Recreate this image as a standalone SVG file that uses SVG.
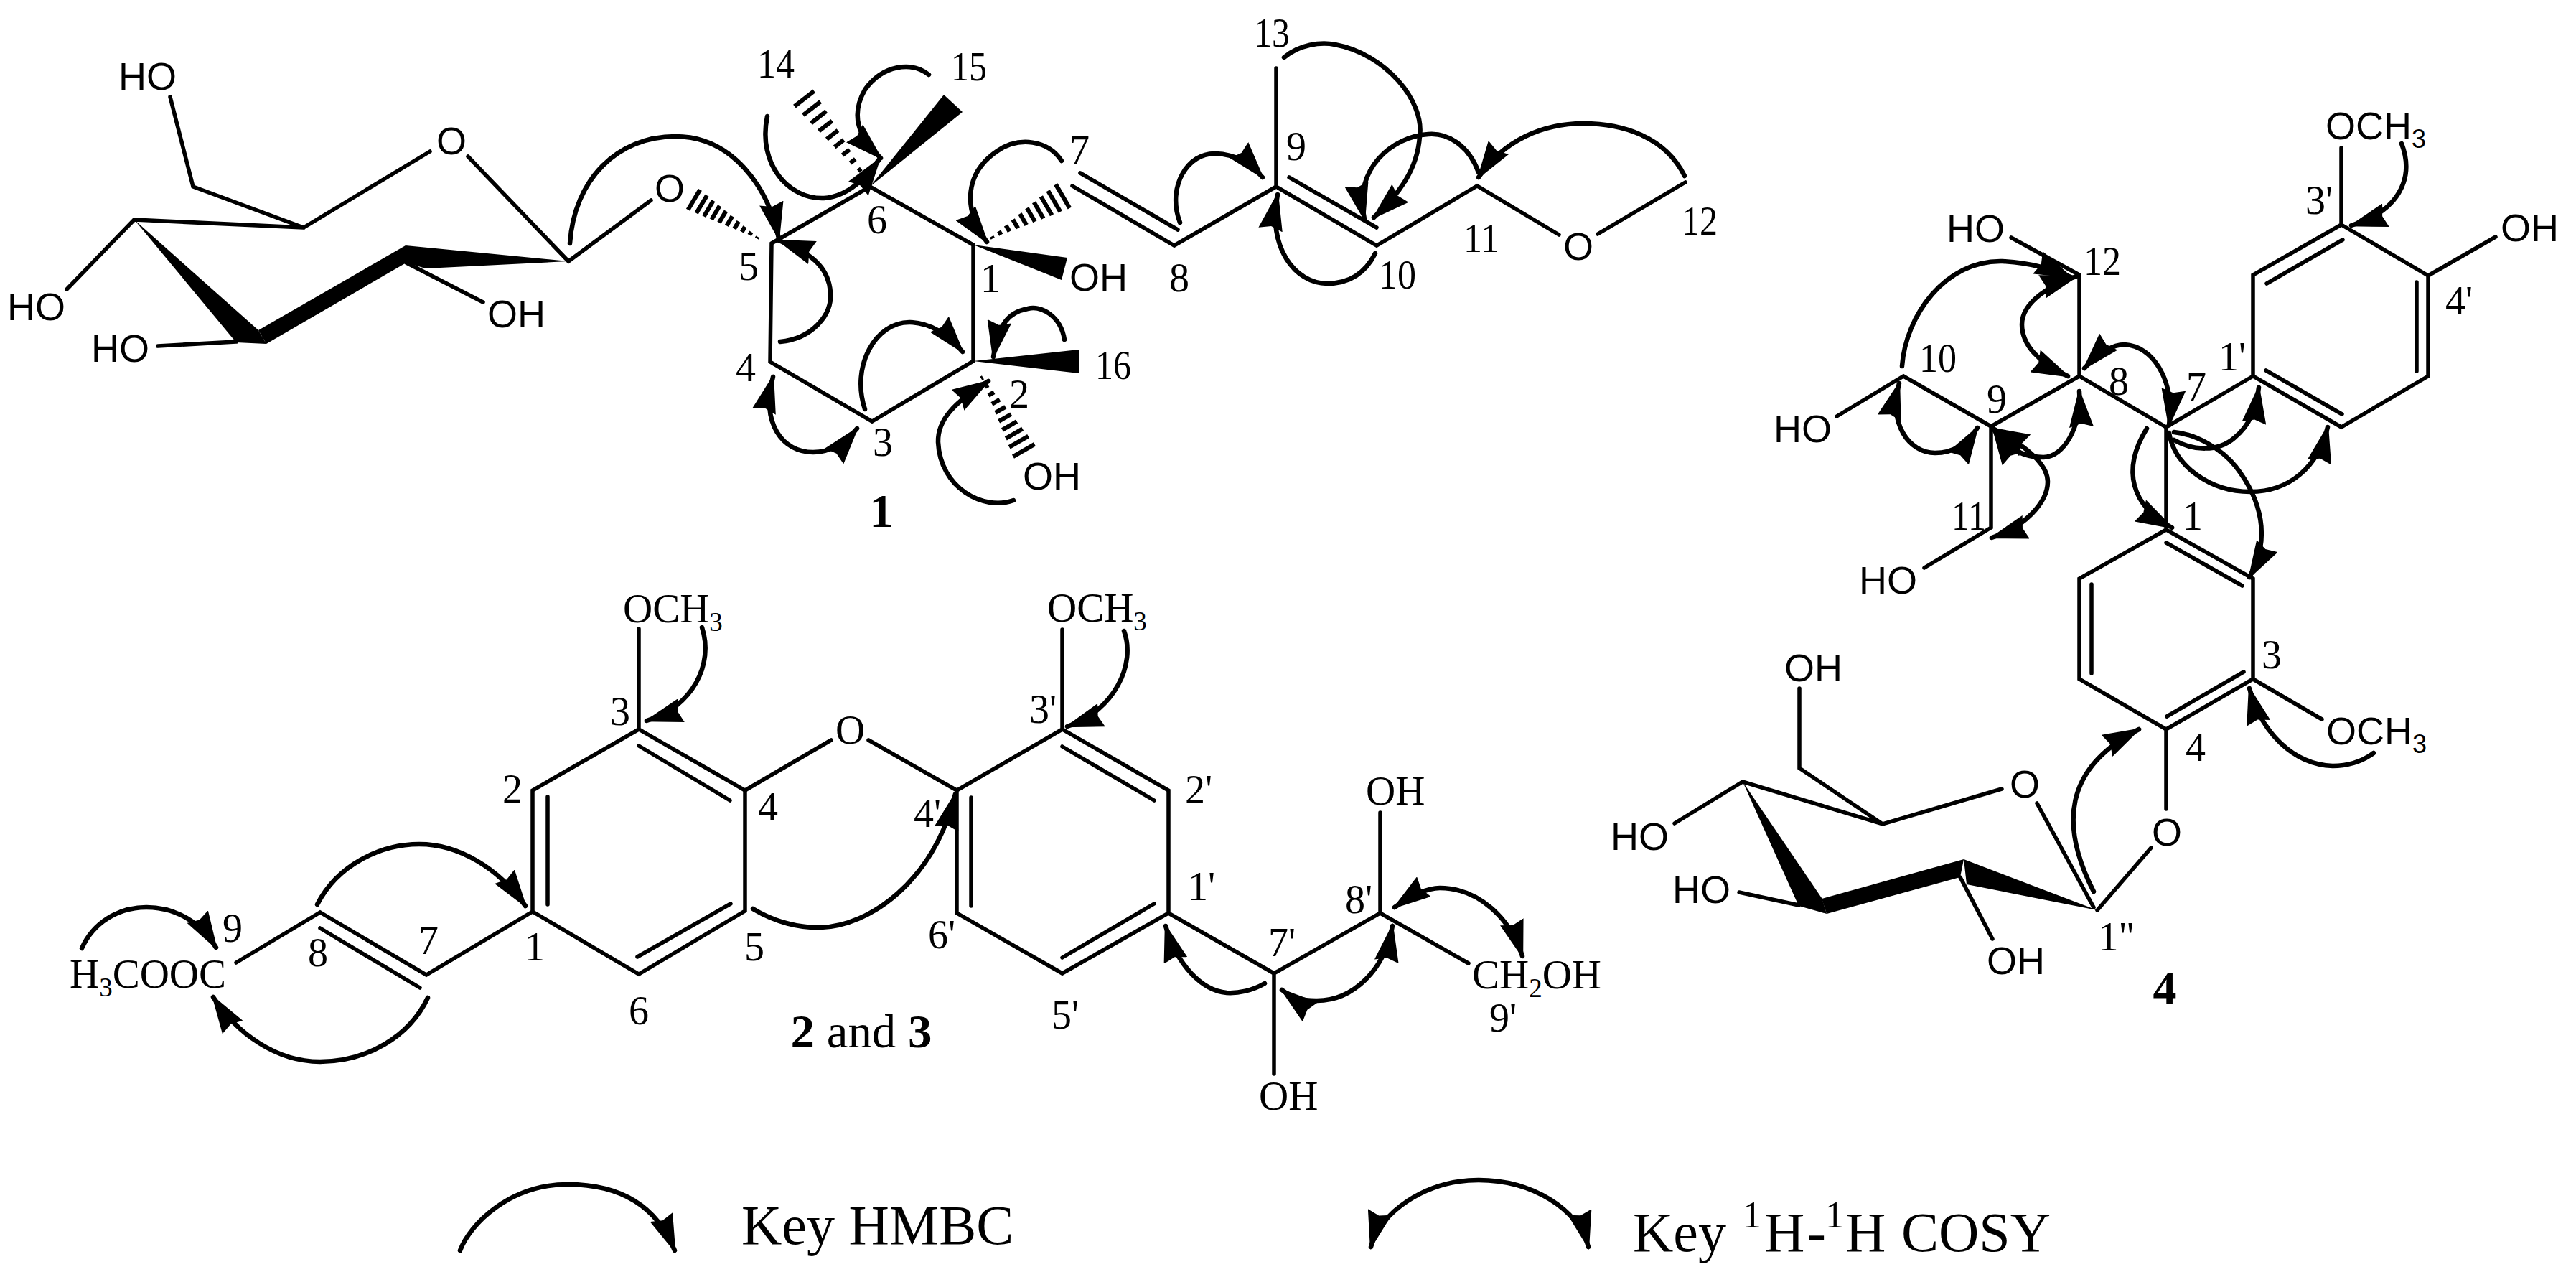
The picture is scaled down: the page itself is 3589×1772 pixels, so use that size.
<svg xmlns="http://www.w3.org/2000/svg" xmlns:xlink="http://www.w3.org/1999/xlink" width="3589" height="1772" viewBox="0 0 3589 1772">
<style>
.bond{fill:none;stroke:#000;stroke-width:5.5;stroke-linecap:round;stroke-linejoin:miter}
.arr{fill:none;stroke:#000;stroke-width:6.5;stroke-linecap:round;marker-end:url(#head)}
.arr2{fill:none;stroke:#000;stroke-width:6.5;stroke-linecap:round;marker-start:url(#head);marker-end:url(#head)}
.hash{fill:none;stroke:#000;stroke-width:6;vector-effect:non-scaling-stroke}
text{fill:#000}
.n{font-family:"Liberation Serif","Times New Roman",serif;font-size:56px;text-anchor:middle}
.t{font-family:"Liberation Serif","Times New Roman",serif;font-size:57px}
.s{font-family:"Liberation Sans",Arial,sans-serif;font-size:54px}
.b{font-family:"Liberation Serif","Times New Roman",serif;font-size:66px;font-weight:bold;text-anchor:middle}
.k{font-family:"Liberation Serif","Times New Roman",serif;font-size:78px}
</style>
<defs>
<marker id="head" markerUnits="userSpaceOnUse" viewBox="0 0 54 34" refX="50" refY="17" markerWidth="54" markerHeight="34" orient="auto-start-reverse"><path d="M54,17L0,0L5,17L0,34Z" fill="#000"/></marker>
<path id="h" class="hash" d="M5,-.08V.08M15,-.15V.15M25,-.25V.25M35,-.35V.35M45,-.45V.45M55,-.55V.55M65,-.65V.65M75,-.75V.75M85,-.85V.85M96,-.96V.96"/>
</defs>
<rect width="3589" height="1772" fill="#fff"/>

<g id="compound-1">
<path class="bond" d="M237,135L269,260L423,317L599,211M652,218L792,364L907,279M187,306L423,317M93,403L187,306M220,482L329,476M566,366L673,421"/>
<polygon points="187,306 360,460 371,479 329,477"/>
<polygon points="360,460 565,342 566,366 371,479"/>
<polygon points="792,364 565,342 566,366 593,374"/>
<path class="bond" d="M1075,339L1212,260L1356,341V503L1215,587L1073,504Z"/>
<path class="bond" d="M1494,259L1636,342L1778,260L1918,342L2058,259L2172,327M2226,326L2348,254M1505,241L1641,320M1796,247L1918,317M1778,95V260"/>
<polygon points="1212,260 1315,132 1341,156"/>
<polygon points="1356,341 1487,359 1479,390"/>
<polygon points="1356,503 1503,487 1503,520"/>
<use xlink:href="#h" href="#h" transform="translate(1060,334) rotate(210.9) scale(1.13,17)"/>
<use xlink:href="#h" href="#h" transform="translate(1212,255) rotate(232.1) scale(1.55,18)"/>
<use xlink:href="#h" href="#h" transform="translate(1377,334) rotate(-30.3) scale(1.25,20)"/>
<use xlink:href="#h" href="#h" transform="translate(1365,521) rotate(60) scale(1.28,18)"/>
<text class="s" x="165" y="125">HO</text>
<text class="s" x="10" y="446">HO</text>
<text class="s" x="127" y="504">HO</text>
<text class="s" x="679" y="456">OH</text>
<text class="s" x="608" y="215">O</text>
<text class="s" x="912" y="281">O</text>
<text class="s" x="1490" y="405">OH</text>
<text class="s" x="1425" y="682">OH</text>
<text class="s" x="2178" y="362">O</text>
<text class="n" x="1081" y="108" textLength="52" lengthAdjust="spacingAndGlyphs">14</text>
<text class="n" x="1350" y="112" textLength="50" lengthAdjust="spacingAndGlyphs">15</text>
<text class="n" x="1772" y="65" textLength="50" lengthAdjust="spacingAndGlyphs">13</text>
<text class="n" x="1504" y="228">7</text>
<text class="n" x="1806" y="223">9</text>
<text class="n" x="1222" y="325">6</text>
<text class="n" x="1380" y="407">1</text>
<text class="n" x="1643" y="406">8</text>
<text class="n" x="1947" y="402" textLength="52" lengthAdjust="spacingAndGlyphs">10</text>
<text class="n" x="2064" y="351" textLength="50" lengthAdjust="spacingAndGlyphs">11</text>
<text class="n" x="2368" y="327" textLength="50" lengthAdjust="spacingAndGlyphs">12</text>
<text class="n" x="1551" y="528" textLength="50" lengthAdjust="spacingAndGlyphs">16</text>
<text class="n" x="1420" y="568">2</text>
<text class="n" x="1230" y="635">3</text>
<text class="n" x="1043" y="390">5</text>
<text class="n" x="1039" y="531">4</text>
<text class="b" x="1228" y="734">1</text>
</g>

<g id="compound-2-3">
<path class="bond" d="M890,876V1016L1038,1101V1269L890,1357L742,1270V1101L890,1016M890,1039L1017,1115M763,1110V1260M1018,1259L888,1333"/>
<path class="bond" d="M329,1341L446,1271L594,1358L742,1270M446,1293L585,1376"/>
<path class="bond" d="M1038,1101L1158,1031M1210,1031L1333,1101"/>
<path class="bond" d="M1480,877V1016L1628,1101V1272L1480,1356L1333,1272V1101L1480,1016M1480,1040L1608,1115M1608,1259L1480,1334M1353,1111V1262"/>
<path class="bond" d="M1628,1272L1775,1356L1923,1272V1132M1775,1356V1496M1923,1272L2046,1342"/>
<text class="t" x="868" y="867">OCH<tspan font-size="37" dy="12">3</tspan></text>
<text class="t" x="1459" y="866">OCH<tspan font-size="37" dy="12">3</tspan></text>
<text class="t" x="1164" y="1036">O</text>
<text class="t" x="1903" y="1121">OH</text>
<text class="t" x="1754" y="1546">OH</text>
<text class="t" x="2051" y="1377">CH<tspan font-size="37" dy="12">2</tspan><tspan dy="-12">OH</tspan></text>
<text class="t" x="97" y="1376">H<tspan font-size="37" dy="12">3</tspan><tspan dy="-12">COOC</tspan></text>
<text class="n" x="324" y="1312">9</text>
<text class="n" x="443" y="1346">8</text>
<text class="n" x="597" y="1329">7</text>
<text class="n" x="745" y="1338">1</text>
<text class="n" x="890" y="1427">6</text>
<text class="n" x="1051" y="1338">5</text>
<text class="n" x="1070" y="1143">4</text>
<text class="n" x="714" y="1118">2</text>
<text class="n" x="864" y="1010">3</text>
<text class="n" x="1453" y="1007">3'</text>
<text class="n" x="1670" y="1119">2'</text>
<text class="n" x="1292" y="1152">4'</text>
<text class="n" x="1312" y="1321">6'</text>
<text class="n" x="1674" y="1254">1'</text>
<text class="n" x="1484" y="1433">5'</text>
<text class="n" x="1786" y="1332">7'</text>
<text class="n" x="1893" y="1272">8'</text>
<text class="n" x="2094" y="1437">9'</text>
<text class="b" x="1200" y="1459" textLength="197" lengthAdjust="spacingAndGlyphs">2 <tspan font-weight="normal">and</tspan> 3</text>
</g>

<g id="compound-4">
<path class="bond" d="M3262,206V313L3383,384V524L3262,595L3139,524V383L3262,313M3158,395L3264,334M3367,393V517M3157,516L3263,577M3383,384L3477,330"/>
<path class="bond" d="M3139,524L3018,595L2897,524L2774,594L2652,524L2559,580M2897,524V383L2802,331M2774,594V735L2681,791"/>
<path class="bond" d="M3018,595V738L3139,806V946L3018,1016L2897,946V806L3018,738M3018,756L3124,816M2914,814V938M3126,936L3019,998M3139,946L3235,1002M3018,1016V1127M2997,1181L2922,1268"/>
<path class="bond" d="M2838,1119L2917,1264M2789,1099L2623,1148L2428,1089L2333,1147M2623,1148L2507,1070V959M2423,1243L2506,1261M2731,1222L2776,1308"/>
<polygon points="2428,1089 2538,1251 2545,1273 2506,1262"/>
<polygon points="2538,1252 2736,1197 2731,1222 2545,1273"/>
<polygon points="2922,1268 2736,1197 2740,1232"/>
<text class="s" x="3240" y="194" font-size="56">OCH<tspan font-size="36" dy="12">3</tspan></text>
<text class="s" x="3241" y="1037" font-size="56">OCH<tspan font-size="36" dy="12">3</tspan></text>
<text class="s" x="3484" y="336">OH</text>
<text class="s" x="2712" y="337">HO</text>
<text class="s" x="2471" y="616">HO</text>
<text class="s" x="2590" y="827">HO</text>
<text class="s" x="2486" y="949">OH</text>
<text class="s" x="2244" y="1184">HO</text>
<text class="s" x="2330" y="1258">HO</text>
<text class="s" x="2768" y="1357">OH</text>
<text class="s" x="2800" y="1111">O</text>
<text class="s" x="2998" y="1178">O</text>
<text class="n" x="3231" y="298">3'</text>
<text class="n" x="3426" y="438">4'</text>
<text class="n" x="3110" y="516">1'</text>
<text class="n" x="2929" y="383" textLength="52" lengthAdjust="spacingAndGlyphs">12</text>
<text class="n" x="2700" y="518" textLength="52" lengthAdjust="spacingAndGlyphs">10</text>
<text class="n" x="2952" y="550">8</text>
<text class="n" x="2782" y="575">9</text>
<text class="n" x="3060" y="558">7</text>
<text class="n" x="2743" y="738" textLength="48" lengthAdjust="spacingAndGlyphs">11</text>
<text class="n" x="3055" y="738">1</text>
<text class="n" x="3165" y="931">3</text>
<text class="n" x="3059" y="1060">4</text>
<text class="n" x="2949" y="1324">1"</text>
<text class="b" x="3016" y="1399">4</text>
</g>

<g id="connectors">
<path class="arr" d="M794,339C800,250 860,190 941,190C1020,190 1070,260 1085,332"/>
<path class="arr" d="M1069,162C1055,230 1100,278 1148,276C1180,274 1205,250 1225,222"/>
<path class="arr" d="M1294,104C1270,85 1230,90 1205,125C1185,160 1195,190 1227,220"/>
<path class="arr" d="M1087,476C1130,472 1160,440 1157,407C1155,380 1140,355 1085,335"/>
<path class="arr2" d="M1077,525C1060,590 1090,630 1133,630C1155,630 1175,620 1194,597"/>
<path class="arr" d="M1205,570C1185,510 1220,448 1268,449C1295,450 1320,465 1341,490"/>
<path class="arr" d="M1479,224C1460,195 1420,190 1390,210C1345,240 1340,290 1375,337"/>
<path class="arr" d="M1483,473C1478,440 1450,425 1432,430C1405,435 1392,450 1384,497"/>
<path class="arr" d="M1412,697C1370,712 1310,680 1307,616C1306,585 1330,560 1377,531"/>
<path class="arr" d="M1644,310C1625,260 1655,212 1694,214C1720,215 1740,225 1759,247"/>
<path class="arr" d="M1916,353C1900,385 1875,395 1849,395C1805,395 1765,345 1780,271"/>
<path class="arr" d="M1789,80C1810,62 1840,58 1860,62C1930,75 1985,140 1978,190C1975,235 1950,270 1914,303"/>
<path class="arr" d="M2060,240C2045,200 2015,185 1990,187C1940,190 1885,235 1901,305"/>
<path class="arr" d="M2347,245C2320,190 2260,172 2206,172C2150,172 2095,195 2060,247"/>
<path class="arr" d="M978,874C995,925 965,985 901,1004"/>
<path class="arr" d="M1566,879C1583,925 1553,990 1487,1012"/>
<path class="arr" d="M1049,1266C1080,1285 1115,1293 1144,1292C1210,1290 1300,1230 1331,1106"/>
<path class="arr" d="M1762,1370C1745,1380 1725,1384 1709,1383C1675,1380 1640,1345 1624,1290"/>
<path class="arr2" d="M1940,1290C1930,1350 1885,1395 1833,1394C1815,1394 1800,1390 1786,1379"/>
<path class="arr2" d="M1943,1264C1970,1245 1990,1237 2006,1237C2060,1237 2105,1280 2121,1332"/>
<path class="arr" d="M442,1260C470,1205 530,1176 584,1176C640,1176 695,1210 732,1262"/>
<path class="arr" d="M114,1321C130,1285 165,1264 204,1264C245,1264 280,1285 301,1320"/>
<path class="arr" d="M596,1390C570,1445 510,1479 446,1479C385,1479 330,1440 297,1389"/>
<path class="arr" d="M3346,200C3365,250 3340,295 3276,314"/>
<path class="arr" d="M2650,510C2655,440 2710,362 2790,364C2830,366 2860,375 2885,386"/>
<path class="arr2" d="M2893,385C2860,395 2817,420 2817,452C2817,480 2840,505 2881,524"/>
<path class="arr2" d="M2904,513C2925,490 2945,480 2960,480C3000,482 3030,530 3022,592"/>
<path class="arr2" d="M2897,545C2900,595 2875,637 2847,637C2820,637 2795,625 2777,597"/>
<path class="arr2" d="M2777,597C2830,625 2853,650 2853,671C2853,700 2820,735 2775,749"/>
<path class="arr2" d="M2646,534C2630,590 2660,631 2696,631C2720,631 2740,620 2755,596"/>
<path class="arr" d="M2991,597C2955,655 2970,705 3026,735"/>
<path class="arr" d="M3029,613C3055,628 3090,630 3113,610C3135,592 3143,570 3147,540"/>
<path class="arr" d="M3022,603C3030,650 3080,685 3135,685C3190,685 3230,650 3243,595"/>
<path class="arr" d="M3029,602C3060,605 3095,625 3115,650C3150,695 3165,750 3134,804"/>
<path class="arr" d="M2917,1242C2870,1150 2875,1070 2980,1016"/>
<path class="arr" d="M3307,1049C3285,1065 3265,1067 3250,1067C3195,1065 3150,1020 3134,959"/>
<path class="arr" d="M641,1742C655,1705 710,1650 791,1650C865,1650 915,1680 940,1742"/>
<path class="arr2" d="M1910,1737C1922,1690 1985,1644 2060,1644C2135,1644 2200,1685 2213,1737"/>
</g>

<g id="legend">
<text class="k" x="1033" y="1733">Key HMBC</text>
<text class="k" x="2275" y="1743">Key<tspan x="2428" y="1710" font-size="52">1</tspan><tspan x="2458" y="1743">H</tspan><tspan x="2518" font-weight="bold">-</tspan><tspan x="2543" y="1710" font-size="52">1</tspan><tspan x="2571" y="1743">H</tspan><tspan x="2649">COSY</tspan></text>
</g>
</svg>
